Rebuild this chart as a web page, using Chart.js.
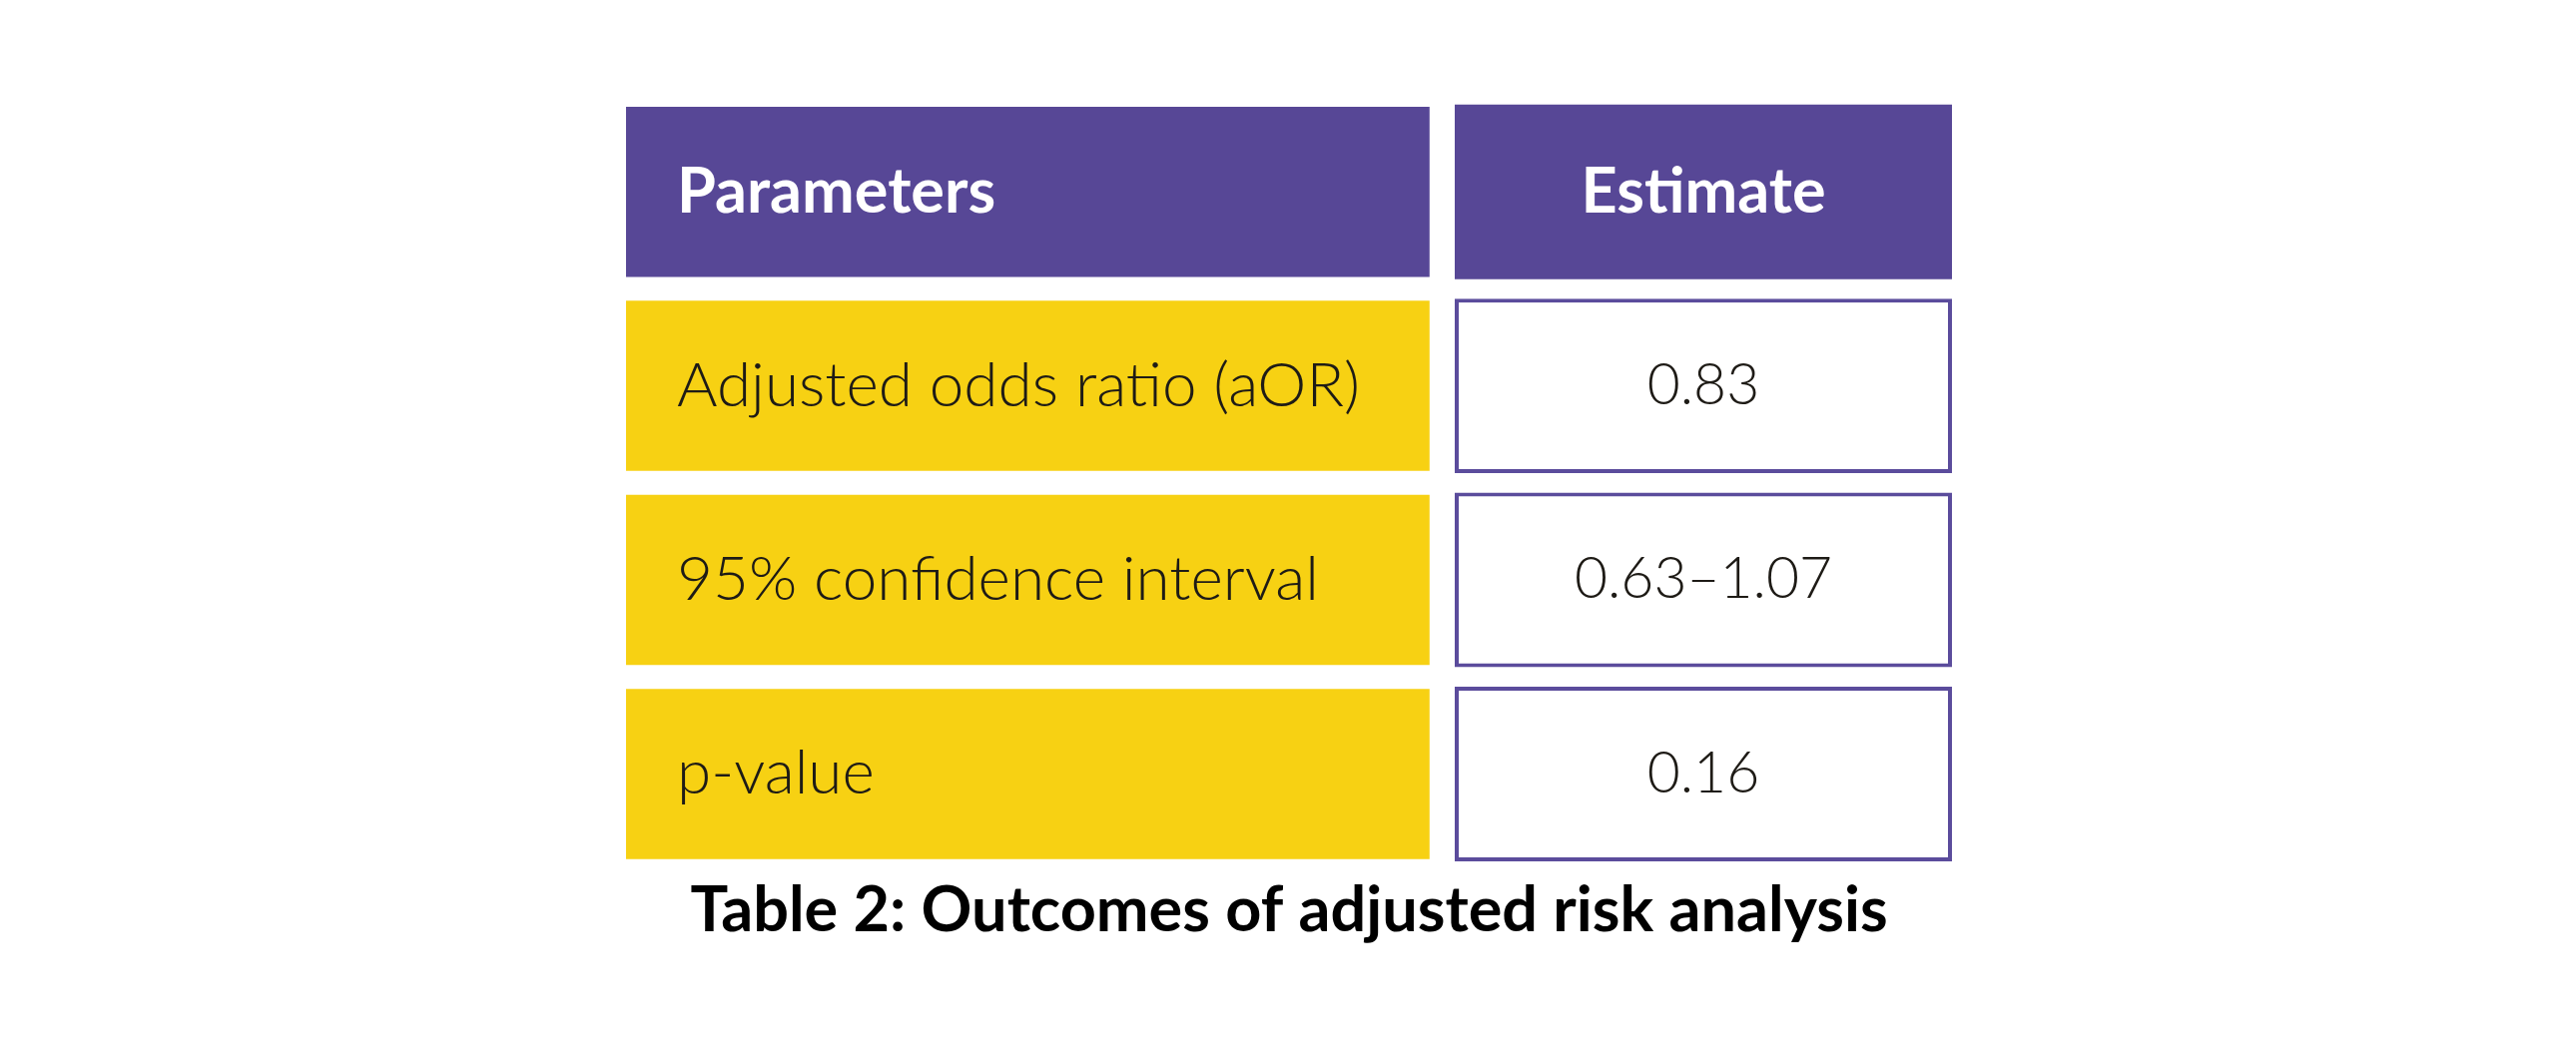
<!DOCTYPE html>
<html>
<head>
<meta charset="utf-8">
<script src="https://cdn.jsdelivr.net/npm/chart.js@4.4.1/dist/chart.umd.min.js"></script>
<style>
  html, body { margin: 0; padding: 0; background: #ffffff; }
  #wrap { width: 2580px; height: 1052px; }
</style>
</head>
<body>
<div id="wrap"><canvas id="c"></canvas></div>
<script>
// ---- data ----
const headers = ["Parameters", "Estimate"];
const parameters = ["Adjusted odds ratio (aOR)", "95% confidence interval", "p-value"];
const estimates = ["0.83", "0.63\u20131.07", "0.16"];
const caption = "Table 2: Outcomes of adjusted risk analysis";

// ---- layout / style constants ----
const PURPLE = "#574796";
const YELLOW = "#F7D113";
const BORDER = "#5B4C9C";
const TEXT = "#1e1b16";
const FONT = "Lato, 'Open Sans', sans-serif";
const COL1 = [0, 0.606];      // parameters column span (fraction of table width)
const COL2 = [0.625, 1];      // estimate column span

const rowLabels = ["header"].concat(parameters);
const col1Data = rowLabels.map(() => COL1);
const col2Data = rowLabels.map(() => COL2);

const textPlugin = {
  id: "cellText",
  afterDatasetsDraw(chart) {
    const ctx = chart.ctx;
    const m1 = chart.getDatasetMeta(0).data;
    const m2 = chart.getDatasetMeta(1).data;
    ctx.save();
    ctx.textBaseline = "middle";
    rowLabels.forEach((lab, i) => {
      const b1 = m1[i], b2 = m2[i];
      const left1 = Math.min(b1.x, b1.base);
      const l2 = Math.min(b2.x, b2.base), r2 = Math.max(b2.x, b2.base);
      const cx2 = (l2 + r2) / 2;
      if (i === 0) {
        ctx.fillStyle = "#ffffff";
        ctx.font = "bold 63px " + FONT;
        ctx.textAlign = "left";
        ctx.fillText(headers[0], left1 + 51, b1.y);
        ctx.textAlign = "center";
        ctx.fillText(headers[1], cx2, b2.y);
      } else {
        ctx.fillStyle = TEXT;
        ctx.font = "300 62px " + FONT;
        ctx.textAlign = "left";
        ctx.fillText(parameters[i - 1], left1 + 51, b1.y);
        ctx.font = "300 57px " + FONT;
        ctx.textAlign = "center";
        ctx.fillText(estimates[i - 1], cx2, b2.y);
      }
    });
    ctx.restore();
  }
};

new Chart(document.getElementById("c"), {
  type: "bar",
  data: {
    labels: rowLabels,
    datasets: [
      {
        label: headers[0],
        data: col1Data,
        grouped: false,
        backgroundColor: rowLabels.map((_, i) => i === 0 ? PURPLE : YELLOW),
        borderWidth: 0,
        categoryPercentage: 1,
        barPercentage: 0.877
      },
      {
        label: headers[1],
        data: col2Data,
        grouped: false,
        backgroundColor: rowLabels.map((_, i) => i === 0 ? PURPLE : "#ffffff"),
        borderColor: BORDER,
        borderWidth: rowLabels.map((_, i) => i === 0 ? 0 : 4),
        borderSkipped: false,
        categoryPercentage: 1,
        barPercentage: rowLabels.map((_, i) => i === 0 ? 0.877 : 0.9)
      }
    ]
  },
  options: {
    indexAxis: "y",
    responsive: true,
    maintainAspectRatio: false,
    animation: false,
    devicePixelRatio: 1,
    layout: { padding: { top: 95, left: 627, right: 625, bottom: 100 } },
    scales: {
      x: { type: "linear", min: 0, max: 1, display: false },
      y: { type: "category", display: false, offset: true }
    },
    plugins: {
      legend: { display: false },
      tooltip: { enabled: false },
      title: {
        display: true,
        position: "bottom",
        text: caption,
        color: "#000000",
        font: { family: FONT, size: 63, weight: "bold", lineHeight: 1.26 },
        padding: { top: 0, bottom: 0 }
      }
    }
  },
  plugins: [textPlugin]
});
</script>
</body>
</html>
